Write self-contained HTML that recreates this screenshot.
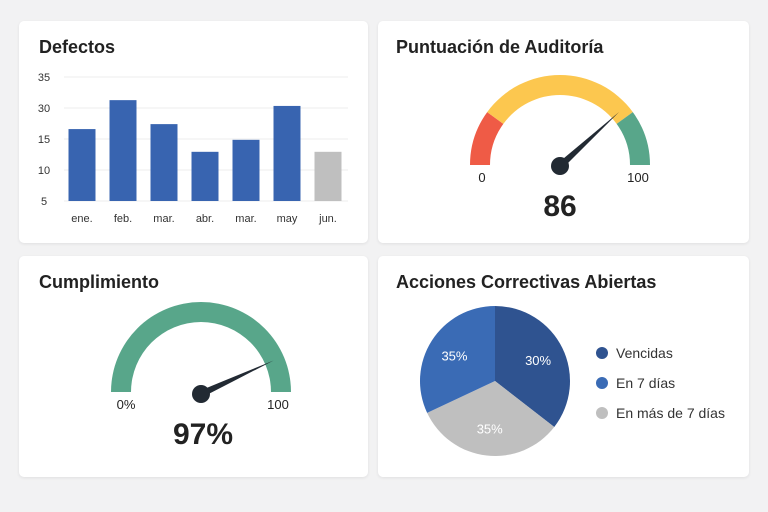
<!DOCTYPE html>
<html><head><meta charset="utf-8"><style>
body{margin:0;width:768px;height:512px;background:#f2f2f3;font-family:"Liberation Sans",sans-serif;overflow:hidden;position:relative}
.card{position:absolute;background:#fff;border-radius:5px;box-shadow:0 1px 3px rgba(0,0,0,.08)}
.title{position:absolute;left:20px;top:16px;font-size:18px;font-weight:bold;color:#222}
svg{position:absolute;left:0;top:0}
</style></head><body>
<div class="card" style="left:19px;top:21px;width:349px;height:222px"><div class="title">Defectos</div></div>
<div class="card" style="left:378px;top:21px;width:371px;height:222px"><div class="title" style="left:18px">Puntuación de Auditoría</div></div>
<div class="card" style="left:19px;top:256px;width:349px;height:221px"><div class="title">Cumplimiento</div></div>
<div class="card" style="left:378px;top:256px;width:371px;height:221px"><div class="title" style="left:18px">Acciones Correctivas Abiertas</div></div>
<svg id="s" width="768" height="512"></svg>
<script>
const categories=["ene.","feb.","mar.","abr.","mar.","may","jun."];
const defects=[22.4,29.4,23.6,16.9,19.8,28.0,16.9];
const tickValues=[5,12.5,20,27.5,35];
const tickLabels=["5","10","15","30","35"];
const auditScore=[86];
const complianceScore=[97];
const pieLabels=["Vencidas","En 7 días","En más de 7 días"];
const pieValues=[35.5,32,32.5];
const pieText=["30%","35%","35%"];
const NS="http://www.w3.org/2000/svg",s=document.getElementById('s');
function el(t,a,txt){const e=document.createElementNS(NS,t);for(const k in a)e.setAttribute(k,a[k]);if(txt!=null)e.textContent=txt;s.appendChild(e);return e;}
// bar chart
const y=v=>201-(v-5)*(124/30);
const xc=i=>82+41*i;
tickValues.forEach((v,i)=>{
 const g=el('line',{x1:64,x2:348,y1:y(v),y2:y(v),stroke:'#ececec'});
 
 const t=el('text',{x:44,y:y(v)+4,'text-anchor':'middle','font-size':11,fill:'#333'},tickLabels[i]);
 
});
categories.forEach((c,i)=>{
 const cx=xc(i);
 const b=el('rect',{x:cx-13.5,y:y(defects[i]),width:27,height:201-y(defects[i]),fill:i==6?'#bfbfbf':'#3864b0'});
 
 const t=el('text',{x:cx,y:222,'text-anchor':'middle','font-size':11,fill:'#333'},c);
 
});
// gauges
function arc(cx,cy,r1,r2,a0,a1,fill,name){
 const p=(r,a)=>[cx-r*Math.cos(a*Math.PI/180),cy-r*Math.sin(a*Math.PI/180)];
 const [ax,ay]=p(r2,a0),[bx,by]=p(r2,a1),[cx2,cy2]=p(r1,a1),[dx,dy]=p(r1,a0);
 const e=el('path',{d:`M${ax} ${ay}A${r2} ${r2} 0 0 1 ${bx} ${by}L${cx2} ${cy2}A${r1} ${r1} 0 0 0 ${dx} ${dy}Z`,fill});
 
}
function needle(cx,cy,v,name){
 const a=(180-v*1.6)*Math.PI/180,L=80;
 const tx=cx+L*Math.cos(a),ty=cy-L*Math.sin(a),nx=-Math.sin(a)*3.5,ny=-Math.cos(a)*3.5;
 const e=el('path',{d:`M${cx+nx} ${cy+ny}L${tx} ${ty}L${cx-nx} ${cy-ny}Z`,fill:'#222a33'});
 
 const h=el('circle',{cx,cy,r:9,fill:'#222a33'});
 
}
arc(560,165,70,90,0,36,'#ef5b46','gauge-red-zone');
arc(560,165,70,90,36,144,'#fcc74f','gauge-yellow-zone');
arc(560,165,70,90,144,180,'#58a68a','gauge-green-zone');
needle(560,166,auditScore[0],'audit-needle');
el('text',{x:482,y:182,'text-anchor':'middle','font-size':13,fill:'#222'},'0');
el('text',{x:638,y:182,'text-anchor':'middle','font-size':13,fill:'#222'},'100');
const av=el('text',{x:560,y:216,'text-anchor':'middle','font-size':30,'font-weight':'bold',fill:'#222'},auditScore[0]);

arc(201,392,70,90,0,180,'#58a68a','gauge-compliance-arc');
needle(201,394,complianceScore[0],'compliance-needle');
el('text',{x:126,y:409,'text-anchor':'middle','font-size':13,fill:'#222'},'0%');
el('text',{x:278,y:409,'text-anchor':'middle','font-size':13,fill:'#222'},'100');
const cv=el('text',{x:203,y:444,'text-anchor':'middle','font-size':30,'font-weight':'bold',fill:'#222'},complianceScore[0]+'%');

// pie
const colors=['#2f5390','#3a6bb5','#bfbfbf'],order=[0,2,1];
const tot=pieValues.reduce((a,b)=>a+b,0);let ang=0;const pcx=495,pcy=381,R=75;
order.forEach(i=>{
 const a0=ang,a1=ang+pieValues[i]/tot*2*Math.PI;ang=a1;
 const P=a=>[pcx+R*Math.sin(a),pcy-R*Math.cos(a)];
 const [x1,y1]=P(a0),[x2,y2]=P(a1);
 const e=el('path',{d:`M${pcx} ${pcy}L${x1} ${y1}A${R} ${R} 0 ${a1-a0>Math.PI?1:0} 1 ${x2} ${y2}Z`,fill:colors[i]});
 
 const m=(a0+a1)/2,lr=48;
 const t=el('text',{x:pcx+lr*Math.sin(m),y:pcy-lr*Math.cos(m)+5,'text-anchor':'middle','font-size':13,fill:'#fff'},pieText[i]);
 
});
pieLabels.forEach((l,i)=>{
 const c=el('circle',{cx:602,cy:353+i*30,r:6,fill:colors[i]});
 
 const t=el('text',{x:616,y:358+i*30,'font-size':14,fill:'#333'},l);
 
});
</script>
</body></html>
